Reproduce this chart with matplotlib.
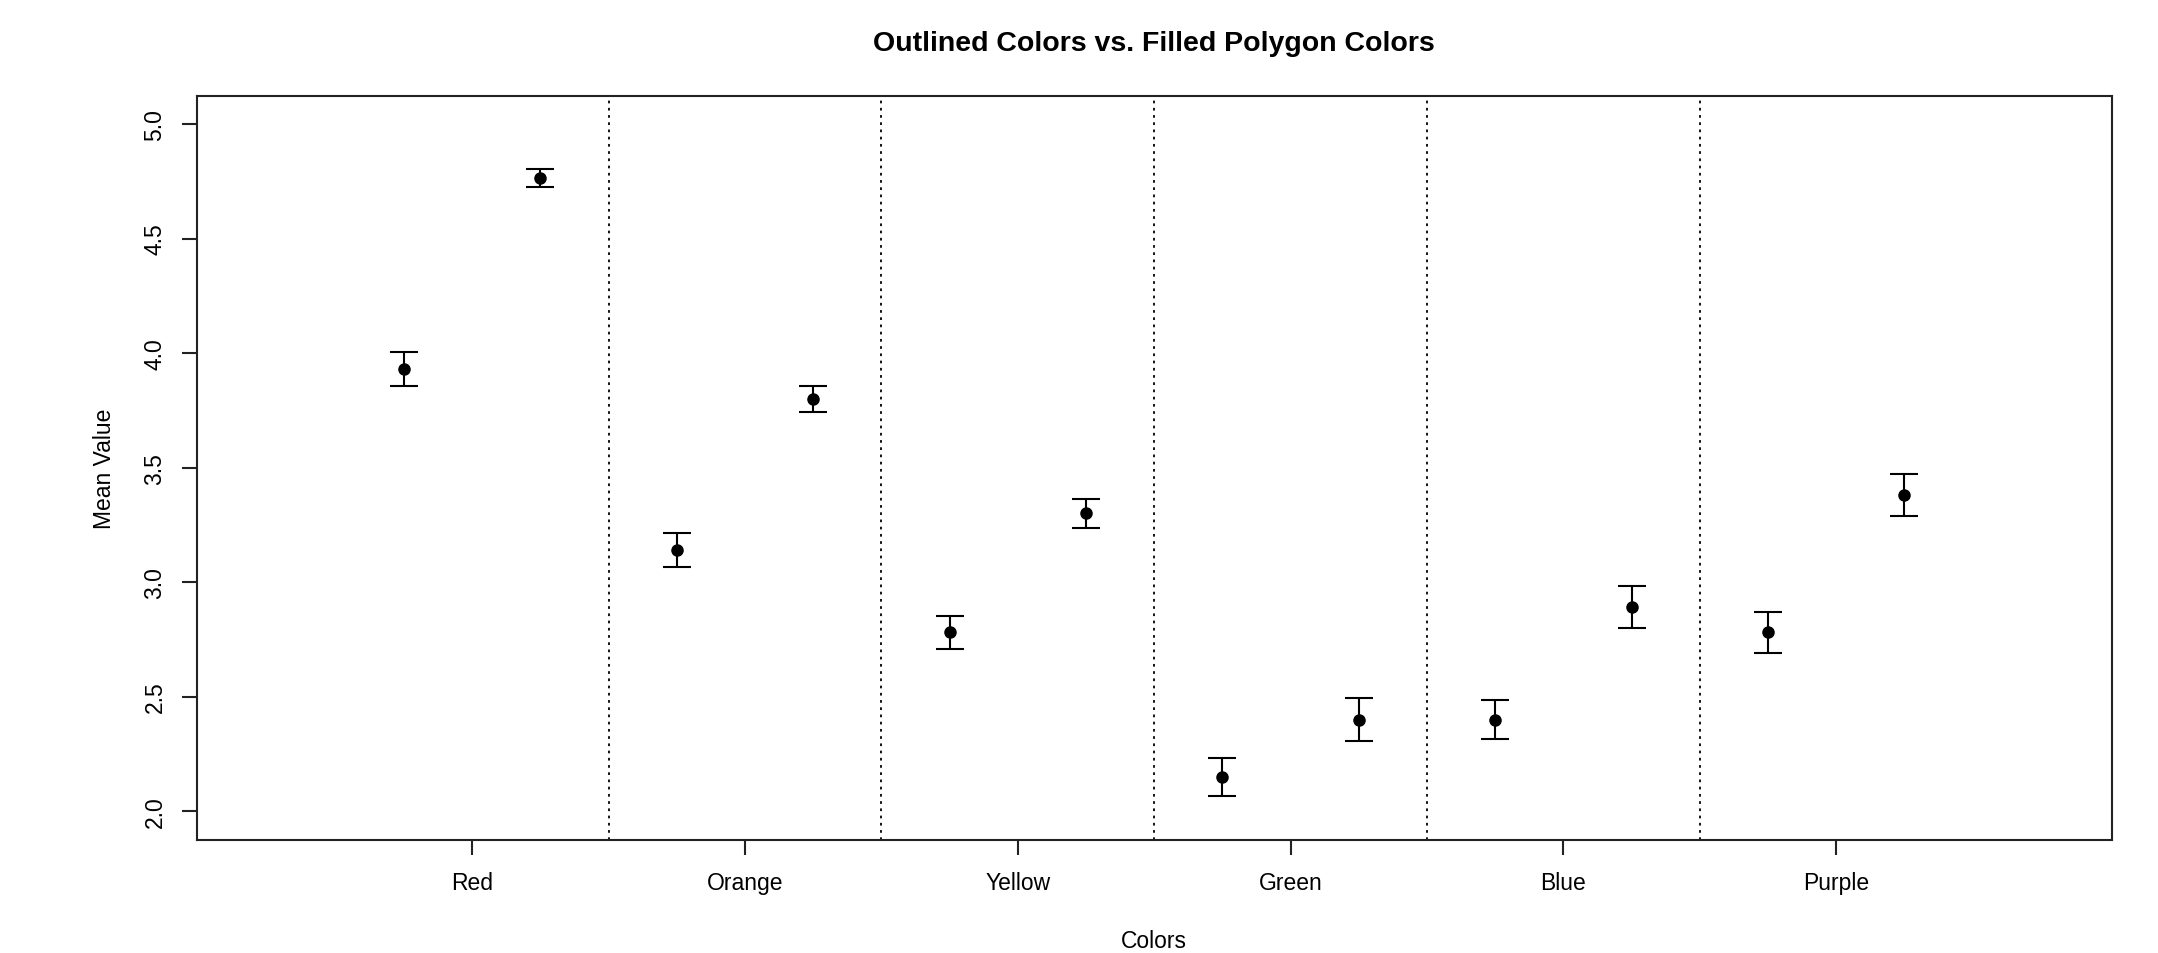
import matplotlib
matplotlib.use("Agg")
import matplotlib.pyplot as plt
import numpy as np

plt.rcParams['font.family'] = ['Liberation Sans', 'DejaVu Sans']

categories = ["Red", "Orange", "Yellow", "Green", "Blue", "Purple"]
outlined_mean = [3.93, 3.14, 2.78, 2.15, 2.40, 2.78]
outlined_err = [0.075, 0.073, 0.074, 0.084, 0.087, 0.090]
filled_mean = [4.765, 3.80, 3.30, 2.40, 2.89, 3.38]
filled_err = [0.040, 0.056, 0.065, 0.093, 0.091, 0.091]
yticks = [2.0, 2.5, 3.0, 3.5, 4.0, 4.5, 5.0]

W, H = 2158, 954
fig = plt.figure(figsize=(W / 100, H / 100), dpi=100)
ax = fig.add_axes([196.7 / W, 1 - 840.5 / H, (2111.7 - 196.7) / W, (840.5 - 96.7) / H])

pos = np.arange(1, len(categories) + 1)
off = 0.25
capsize = 27 / 2 / (100 / 72)  # points

for x, m, e in [(pos - off, outlined_mean, outlined_err), (pos + off, filled_mean, filled_err)]:
    ax.errorbar(x, m, yerr=e, fmt='o', color='black', ms=8, elinewidth=1.5,
                capsize=capsize, capthick=1.5, zorder=3)

for s in pos[:-1] + 0.5:
    ax.axvline(s, color='black', lw=1.3, linestyle=(0, (1.5, 2.5)), zorder=1)

ax.set_xlim(-0.01, 7.01)
ax.set_ylim(1.876, 5.124)
ax.set_xticks(pos)
ax.set_xticklabels(categories)
ax.set_yticks(yticks)
ax.set_yticklabels([f"{v:.1f}" for v in yticks], rotation=90, va='center')

for sp in ax.spines.values():
    sp.set_linewidth(1.5)
    sp.set_color('#222222')

ax.tick_params(axis='both', length=10.8, width=1.5, color='#222222', labelsize=16.5)
ax.tick_params(axis='x', pad=12)
ax.tick_params(axis='y', pad=11)

ax.set_xlabel("Colors", fontsize=16.5, labelpad=25)
ax.set_ylabel("Mean Value", fontsize=16.5, labelpad=20)
ax.set_title("Outlined Colors vs. Filled Polygon Colors", fontsize=20.5, fontweight='bold', pad=33)

fig.savefig("out.png", dpi=100)
